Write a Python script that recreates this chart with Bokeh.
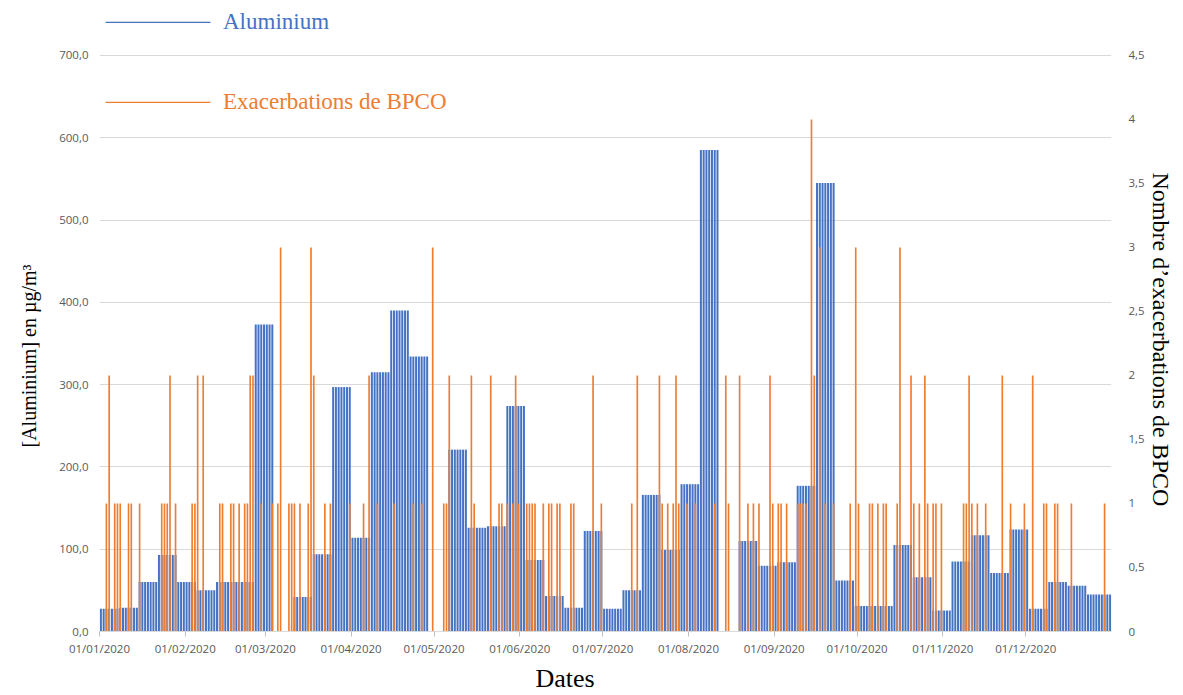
from bokeh.plotting import figure
from bokeh.models import Range1d, LinearAxis, FixedTicker, Legend, LegendItem, Title
from bokeh.embed import file_html
from bokeh.resources import INLINE

# Aluminium concentration (µg/m³), one value per 7-day period starting 01/01/2020 (None = no measurement)
aluminium_hebdo = [27.5, 29, 60, 93, 60, 50, 60, 60, 373, None,
                   42, 94, 297, 114, 315, 390, 334, None, 221, 126,
                   128, 274, 87, 43, 29, 122, 27.5, 50, 166, 99,
                   179, 585, None, 110, 80, 84, 177, 545, 62, 31,
                   31, 105, 66, 25.5, 85, 117, 71, 124, 27.5, 60,
                   55.5, 45, 45]

# COPD exacerbations: day offset from 01/01/2020 and number of cases that day
exac_jour = [2, 3, 5, 6, 7, 10, 11, 14, 22, 23, 24, 25, 27, 33, 34, 35, 37, 43, 44, 47,
             48, 50, 52, 53, 54, 55, 58, 62, 64, 65, 68, 69, 70, 72, 75, 76, 77, 81, 83, 90,
             95, 97, 100, 106, 113, 116, 120, 124, 125, 126, 134, 135, 141, 144, 145, 147, 149, 150, 151, 154,
             155, 156, 157, 160, 162, 163, 165, 166, 170, 171, 178,
             181, 192, 194, 202, 203, 205, 207, 208, 209, 212, 215, 222, 226, 227, 231, 234, 236, 238, 242,
             243, 245, 246, 248, 252, 253, 254, 255, 257, 258, 260, 262, 265,
             271, 273, 274, 278, 279, 281, 283, 284, 288, 289, 293, 294, 296, 298, 299, 301, 302, 304,
             312, 313, 314, 315, 317, 320, 326, 329, 334, 337, 341, 342, 345, 346, 351, 363]
exac_nombre = [1, 2, 1, 1, 1, 1, 1, 1, 1, 1, 1, 2, 1, 1, 1, 2, 2, 1, 1, 1,
               1, 1, 1, 1, 2, 2, 1, 1, 1, 3, 1, 1, 1, 1, 1, 3, 2, 1, 1, 1,
               1, 2, 1, 1, 1, 1, 3, 1, 1, 2, 2, 1, 2, 1, 1, 1, 1, 2, 1, 1,
               1, 1, 1, 1, 1, 1, 1, 1, 1, 1, 2,
               1, 1, 2, 2, 1, 1, 1, 2, 1, 1, 1, 1, 2, 1, 2, 1, 1, 1, 2,
               1, 1, 1, 1, 1, 1, 1, 1, 4, 2, 3, 1, 1,
               1, 3, 1, 1, 1, 1, 1, 1, 1, 3, 2, 1, 1, 2, 1, 1, 1, 1,
               1, 1, 2, 1, 1, 1, 2, 1, 1, 2, 1, 1, 1, 1, 1, 1]

# Month starts on the date axis
mois_debut = [0, 31, 60, 91, 121, 152, 182, 213, 244, 274, 305, 335]
mois_labels = ["01/01/2020", "01/02/2020", "01/03/2020", "01/04/2020", "01/05/2020", "01/06/2020",
               "01/07/2020", "01/08/2020", "01/09/2020", "01/10/2020", "01/11/2020", "01/12/2020"]

al_ticks = [0, 100, 200, 300, 400, 500, 600, 700]
al_labels = ["0,0", "100,0", "200,0", "300,0", "400,0", "500,0", "600,0", "700,0"]
ex_ticks = [0, 0.5, 1, 1.5, 2, 2.5, 3, 3.5, 4, 4.5]
ex_labels = ["0", "0,5", "1", "1,5", "2", "2,5", "3", "3,5", "4", "4,5"]

NB_JOURS = 366
BLEU = "#4472C4"
ORANGE = "#ED7D31"
SERIF = "Liberation Serif"
SANS = "Open Sans"
TICK_GREY = "#595959"

# frame geometry: the plot area runs to the top of the page so the legend can sit above the 700 line
FRAME_TOP, FRAME_BOTTOM = 0, 632
PX_TO_700 = 577                      # pixels between the 0 and 700 gridlines
FRAME_H = FRAME_BOTTOM - FRAME_TOP
AL_MAX = 700 * FRAME_H / PX_TO_700
EX_MAX = 4.5 * FRAME_H / PX_TO_700

# expand the weekly aluminium values onto each day of their period
al_x, al_top = [], []
for k, v in enumerate(aluminium_hebdo):
    if v is None:
        continue
    for j in range(7):
        d = 7 * k + j
        if d < NB_JOURS:
            al_x.append(d + 0.5)
            al_top.append(v)

ex_x = [d + 0.5 for d in exac_jour]

p = figure(width=1183, height=695, x_range=Range1d(0, NB_JOURS), y_range=Range1d(0, AL_MAX),
           output_backend="svg", toolbar_location=None,
           min_border_left=99, min_border_right=72, min_border_top=FRAME_TOP,
           min_border_bottom=695 - FRAME_BOTTOM)
p.outline_line_color = None
p.background_fill_color = "white"
p.extra_y_ranges = {"exac": Range1d(0, EX_MAX)}

r_al = p.vbar(x=al_x, top=al_top, bottom=0, width=0.72, fill_color=BLEU, line_color=None)
r_ex = p.vbar(x=ex_x, top=exac_nombre, bottom=0, width=0.6, fill_color=ORANGE, line_color=None,
              y_range_name="exac")

# grid
p.xgrid.visible = False
p.ygrid.ticker = FixedTicker(ticks=al_ticks)
p.ygrid.grid_line_color = "#d9d9d9"
p.ygrid.grid_line_width = 1

# bottom date axis
xa = p.xaxis[0]
xa.ticker = FixedTicker(ticks=mois_debut)
xa.major_label_overrides = dict(zip(mois_debut, mois_labels))
xa.axis_line_color = "#d9d9d9"
xa.major_tick_line_color = "#bfbfbf"
xa.major_tick_in = 0
xa.major_tick_out = 5
xa.minor_tick_line_color = None
xa.major_label_text_font = SANS
xa.major_label_text_font_size = "11.5px"
xa.major_label_text_color = TICK_GREY
xa.major_label_standoff = 4

# left axis
ya = p.yaxis[0]
ya.ticker = FixedTicker(ticks=al_ticks)
ya.major_label_overrides = dict(zip(al_ticks, al_labels))
ya.axis_line_color = None
ya.major_tick_line_color = None
ya.major_tick_in = 0
ya.major_tick_out = 0
ya.minor_tick_line_color = None
ya.minor_tick_out = 0
ya.major_label_text_font = SANS
ya.major_label_text_font_size = "11.5px"
ya.major_label_text_color = TICK_GREY
ya.major_label_standoff = 11

# right axis
ra = LinearAxis(y_range_name="exac", ticker=FixedTicker(ticks=ex_ticks))
ra.major_label_overrides = dict(zip(ex_ticks, ex_labels))
ra.axis_line_color = None
ra.major_tick_line_color = None
ra.major_tick_in = 0
ra.major_tick_out = 0
ra.minor_tick_line_color = None
ra.minor_tick_out = 0
ra.major_label_text_font = SANS
ra.major_label_text_font_size = "11.5px"
ra.major_label_text_color = TICK_GREY
ra.major_label_standoff = 17
p.add_layout(ra, "right")

# axis titles, positioned along their side of the plot area
p.add_layout(Title(text="[Aluminium] en µg/m³", align="left", offset=184, standoff=29,
                   vertical_align="top",
                   text_font=SERIF, text_font_size="20px", text_font_style="normal",
                   text_color="black"), "left")
p.add_layout(Title(text="Nombre d\u2019exacerbations de BPCO", align="left", offset=172, standoff=0,
                   text_font=SERIF, text_font_size="24px", text_font_style="normal",
                   text_color="black"), "right")
p.add_layout(Title(text="Dates", align="left", offset=436, standoff=6, text_font=SERIF,
                   text_font_size="26px", text_font_style="normal", text_color="black"), "below")

# legend entries drawn as thin lines with coloured labels
def make_legend(label, renderer, color, y):
    return Legend(items=[LegendItem(label=label, renderers=[renderer])],
                  location=(-7, y), orientation="vertical",
                  glyph_width=131, glyph_height=2, label_standoff=0,
                  label_text_font=SERIF, label_text_font_size="23px", label_text_color=color,
                  padding=0, margin=0, border_line_color=None, background_fill_alpha=0)

p.add_layout(make_legend("Aluminium", r_al, BLEU, 596), "center")
p.add_layout(make_legend("Exacerbations de BPCO", r_ex, ORANGE, 516), "center")

open("out.html", "w").write(file_html(p, INLINE))
